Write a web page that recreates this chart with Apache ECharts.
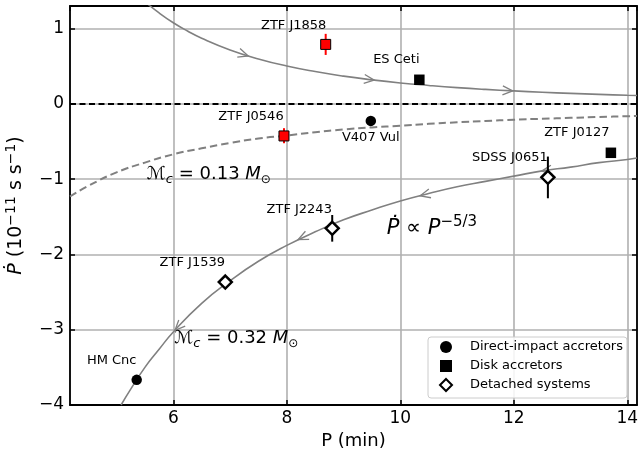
<!DOCTYPE html>
<html><head><meta charset="utf-8">
<script src="https://cdn.jsdelivr.net/npm/echarts@6/dist/echarts.min.js"></script>
<style>html,body{margin:0;padding:0;background:#fff}#c{width:639px;height:456px}</style>
</head><body><div id="c"></div>
<script>
// ---------------- data ----------------
const directNames = ['HM Cnc', 'V407 Vul'];
const directP = [5.355, 9.48];
const directPdot = [-3.666, -0.226];

const diskNames = ['ES Ceti', 'ZTF J0127'];
const diskP = [10.335, 13.71];
const diskPdot = [0.32, -0.65];

const ztfDiskNames = ['ZTF J1858', 'ZTF J0546'];
const ztfDiskP = [8.685, 7.95];
const ztfDiskPdot = [0.79, -0.426];
const ztfDiskErrLow = [0.65, -0.523];
const ztfDiskErrHigh = [0.93, -0.323];

const detachedNames = ['ZTF J1539', 'ZTF J2243', 'SDSS J0651'];
const detachedP = [6.916, 8.80, 12.60];
const detachedPdot = [-2.367, -1.653, -0.975];
const detachedErrLow = [null, -1.83, -1.254];
const detachedErrHigh = [null, -1.476, -0.70];

// track for Mc = 0.32 Msun (solid, lower)
const track032P    = [5.08, 5.25, 5.5, 5.75, 6.0, 6.5, 7.0, 7.5, 8.0, 8.5, 9.0, 9.5, 10.0, 10.5, 11.0, 11.5, 12.0, 12.5, 13.0, 13.5, 14.0, 14.17];
const track032Pdot = [-4.00, -3.79, -3.50, -3.26, -3.03, -2.65, -2.35, -2.09, -1.88, -1.70, -1.54, -1.41, -1.29, -1.19, -1.10, -1.03, -0.96, -0.89, -0.84, -0.78, -0.74, -0.72];
// track for Mc = 0.13 Msun (dashed)
const track013P    = [4.18, 4.5, 5.0, 5.5, 6.0, 6.5, 7.0, 7.5, 8.0, 8.5, 9.0, 9.5, 10.0, 10.5, 11.0, 11.5, 12.0, 12.5, 13.0, 13.5, 14.0, 14.17];
const track013Pdot = [-1.23, -1.09, -0.91, -0.78, -0.67, -0.59, -0.52, -0.46, -0.42, -0.377, -0.34, -0.313, -0.29, -0.265, -0.245, -0.228, -0.21, -0.198, -0.186, -0.174, -0.164, -0.16];
// upper (positive) track
const trackUpP    = [5.5, 5.75, 6.0, 6.25, 6.5, 7.0, 7.5, 8.0, 8.5, 9.0, 9.5, 10.0, 10.5, 11.0, 11.5, 12.0, 12.5, 13.0, 13.5, 14.0, 14.17];
const trackUpPdot = [1.358, 1.208, 1.078, 0.968, 0.872, 0.717, 0.597, 0.503, 0.429, 0.368, 0.319, 0.278, 0.245, 0.216, 0.192, 0.172, 0.154, 0.139, 0.126, 0.114, 0.111];

// arrow heads on the tracks: tip point and a point just behind it
const arrowTipP     = [7.32, 9.54, 11.98, 6.03, 8.20, 10.35, 12.49];
const arrowTipPdot  = [0.637, 0.3155, 0.1726, -3.007, -1.802, -1.222, -0.893];
const arrowBackP    = [7.02, 9.24, 11.68, 6.33, 8.50, 10.65, 12.79];
const arrowBackPdot = [0.711, 0.343, 0.1845, -2.773, -1.698, -1.165, -0.859];

const xMin = 4.18, xMax = 14.17, yMin = -4, yMax = 1.30;

// ---------------- layout / style ----------------
const FONT = 'DejaVu Sans';
const labelOffsets = {
  'HM Cnc': [-25, -19], 'V407 Vul': [0, 17], 'ES Ceti': [-23, -20], 'ZTF J0127': [-34, -20],
  'ZTF J1858': [-32, -19], 'ZTF J0546': [-33, -19], 'ZTF J1539': [-33, -19], 'ZTF J2243': [-33, -19],
  'SDSS J0651': [-38, -20]
};
const zip = (a, b) => a.map((v, i) => [v, b[i]]);
const pts = (names, P, Pd) => names.map((n, i) => ({
  name: n, value: [P[i], Pd[i]],
  label: { offset: labelOffsets[n] }
}));
const errs = (P, lo, hi) => P.map((p, i) => [p, lo[i], hi[i]]).filter(d => d[1] !== null);
const minus = v => (v < 0 ? '\u2212' + Math.abs(v) : String(v));

const ptLabel = { show: true, formatter: '{b}', position: 'inside', fontSize: 13, color: '#000', fontFamily: FONT };

const errRender = color => function (params, api) {
  const a = api.coord([api.value(0), api.value(1)]);
  const b = api.coord([api.value(0), api.value(2)]);
  return { type: 'line', shape: { x1: a[0], y1: a[1], x2: b[0], y2: b[1] }, style: { stroke: color, lineWidth: 2 } };
};

const arrowData = arrowTipP.map((p, i) => [p, arrowTipPdot[i], arrowBackP[i], arrowBackPdot[i]]);

const axisCommon = {
  type: 'value',
  axisLine: { show: true, onZero: false, lineStyle: { color: '#000', width: 1.8 } },
  axisTick: { show: true, inside: true, length: 5, lineStyle: { color: '#000', width: 1.5 } },
  minorTick: { show: false }
};

const option = {
  animation: false,
  backgroundColor: '#fff',
  textStyle: { fontFamily: FONT },
  grid: { left: 70, right: 2, top: 6, bottom: 51, containLabel: false, outerBoundsMode: 'none' },
  xAxis: [
    Object.assign({}, axisCommon, {
      position: 'bottom', min: xMin, max: xMax,
      name: 'P (min)', nameLocation: 'middle', nameGap: 24,
      nameTextStyle: { fontSize: 18, color: '#000', fontFamily: FONT },
      axisLabel: { fontSize: 17, color: '#000', margin: 5, showMinLabel: false, showMaxLabel: false, formatter: minus },
      splitLine: { show: true, lineStyle: { color: '#b0b0b0', width: 1.6 } }
    }),
    Object.assign({}, axisCommon, {
      position: 'top', min: xMin, max: xMax,
      axisLabel: { show: false }, splitLine: { show: false }
    })
  ],
  yAxis: [
    Object.assign({}, axisCommon, {
      position: 'left', min: yMin, max: yMax,
      name: '{i|\u1E56} (10{s|\u221211} s s{s|\u22121})',
      nameLocation: 'middle', nameGap: 31,
      nameTextStyle: {
        fontSize: 19, color: '#000', fontFamily: FONT, lineHeight: 24,
        rich: {
          i: { fontSize: 19, fontStyle: 'italic', fontFamily: FONT, color: '#000', lineHeight: 24 },
          s: { fontSize: 14, fontFamily: FONT, color: '#000', verticalAlign: 'top', lineHeight: 14 }
        }
      },
      axisLabel: { fontSize: 17, color: '#000', margin: 6, showMaxLabel: false, formatter: minus },
      splitLine: { show: true, lineStyle: { color: '#b0b0b0', width: 1.6 } }
    }),
    Object.assign({}, axisCommon, {
      position: 'right', min: yMin, max: yMax,
      axisLabel: { show: false }, splitLine: { show: false }
    })
  ],
  legend: {
    data: ['Direct-impact accretors', 'Disk accretors', 'Detached systems'],
    orient: 'vertical', left: 428, top: 337,
    itemWidth: 12, itemHeight: 12, itemGap: 3,
    padding: [2, 4, 5, 11],
    backgroundColor: 'rgba(255,255,255,0.85)', borderColor: '#cccccc', borderWidth: 1, borderRadius: 3,
    textStyle: { fontSize: 13, color: '#000', fontFamily: FONT, lineHeight: 16, padding: [0, 0, 0, 13] },
    selectedMode: false
  },
  series: [
    {
      name: 'track up', type: 'line', data: zip(trackUpP, trackUpPdot), showSymbol: false, symbol: 'none',
      smooth: true, z: 2, silent: true,
      lineStyle: { color: '#808080', width: 1.6 },
      markLine: {
        silent: true, symbol: ['none', 'none'], label: { show: false },
        lineStyle: { color: '#000', width: 1.8, type: [6, 3.5] },
        data: [{ yAxis: 0 }]
      }
    },
    {
      name: 'track 0.32', type: 'line', data: zip(track032P, track032Pdot), showSymbol: false, symbol: 'none',
      smooth: true, z: 2, silent: true,
      lineStyle: { color: '#808080', width: 1.6 }
    },
    {
      name: 'track 0.13', type: 'line', data: zip(track013P, track013Pdot), showSymbol: false, symbol: 'none',
      smooth: true, z: 2, silent: true,
      lineStyle: { color: '#808080', width: 2, type: [7.5, 4] }
    },
    {
      name: 'arrows', type: 'custom', data: arrowData, z: 3, silent: true, clip: true,
      encode: { x: 0, y: 1 },
      renderItem: function (params, api) {
        const tip = api.coord([api.value(0), api.value(1)]);
        const back = api.coord([api.value(2), api.value(3)]);
        const dx = back[0] - tip[0], dy = back[1] - tip[1];
        const L = Math.hypot(dx, dy) || 1;
        const ux = dx / L, uy = dy / L;
        const len = 11, ang = 24 * Math.PI / 180;
        const arm = s => [tip[0] + len * (ux * Math.cos(s * ang) - uy * Math.sin(s * ang)),
                          tip[1] + len * (ux * Math.sin(s * ang) + uy * Math.cos(s * ang))];
        return { type: 'polyline', shape: { points: [arm(1), tip, arm(-1)] },
                 style: { stroke: '#808080', lineWidth: 1.3, fill: null } };
      }
    },
    {
      name: 'err red', type: 'custom', data: errs(ztfDiskP, ztfDiskErrLow, ztfDiskErrHigh), z: 4, silent: true,
      encode: { x: 0, y: [1, 2] }, renderItem: errRender('#ff0000')
    },
    {
      name: 'err black', type: 'custom', data: errs(detachedP, detachedErrLow, detachedErrHigh), z: 4, silent: true,
      encode: { x: 0, y: [1, 2] }, renderItem: errRender('#000000')
    },
    {
      name: 'Direct-impact accretors', type: 'scatter', data: pts(directNames, directP, directPdot),
      symbol: 'circle', symbolSize: 10.5, z: 5,
      itemStyle: { color: '#000', opacity: 1 }, label: ptLabel
    },
    {
      name: 'Disk accretors', type: 'scatter', data: pts(diskNames, diskP, diskPdot),
      symbol: 'rect', symbolSize: 10.5, z: 5,
      itemStyle: { color: '#000', opacity: 1 }, label: ptLabel
    },
    {
      name: 'ZTF disk', type: 'scatter', data: pts(ztfDiskNames, ztfDiskP, ztfDiskPdot),
      symbol: 'rect', symbolSize: 10, z: 5,
      itemStyle: { color: '#ff0000', borderColor: '#000', borderWidth: 1, opacity: 1 }, label: ptLabel
    },
    {
      name: 'Detached systems', type: 'scatter', data: pts(detachedNames, detachedP, detachedPdot),
      symbol: 'diamond', symbolSize: 13, z: 5,
      itemStyle: { color: '#fff', borderColor: '#000', borderWidth: 2.5, opacity: 1 }, label: ptLabel
    }
  ]
};

const chart = echarts.init(document.getElementById('c'));
chart.setOption(option);

// text annotations anchored in data coordinates
const annot = [
  { at: [5.53, -0.931], text: '{m|\u2133}{c|c}{t| = 0.13 }{m|M}{o|\u2299}' },
  { at: [6.013, -3.112], text: '{m|\u2133}{c|c}{t| = 0.32 }{m|M}{o|\u2299}' },
  { at: [9.76, -1.662], text: '{i|\u1E56}{t| \u221D }{i|P}{s|\u22125/3}' }
];
const rich = {
  m: { fontSize: 18, fontStyle: 'italic', fontFamily: FONT, fill: '#000', lineHeight: 24 },
  c: { fontSize: 13, fontStyle: 'italic', fontFamily: FONT, fill: '#000', verticalAlign: 'bottom', lineHeight: 14 },
  t: { fontSize: 18, fontFamily: FONT, fill: '#000', lineHeight: 24 },
  o: { fontSize: 12, fontFamily: FONT, fill: '#000', verticalAlign: 'bottom', lineHeight: 13 },
  i: { fontSize: 21, fontStyle: 'italic', fontFamily: FONT, fill: '#000', lineHeight: 28 },
  s: { fontSize: 15, fontFamily: FONT, fill: '#000', verticalAlign: 'top', lineHeight: 15 }
};
const richBig = Object.assign({}, rich, { t: { fontSize: 21, fontFamily: FONT, fill: '#000', lineHeight: 28 } });
chart.setOption({
  graphic: annot.map((a, k) => {
    const p = chart.convertToPixel({ xAxisIndex: 0, yAxisIndex: 0 }, a.at);
    return {
      type: 'text', x: p[0], y: p[1], z: 10, silent: true,
      style: { text: a.text, rich: k === 2 ? richBig : rich, align: 'left', verticalAlign: 'middle',
               fontFamily: FONT, fontSize: 18, fill: '#000' }
    };
  })
});
</script>
</body></html>
